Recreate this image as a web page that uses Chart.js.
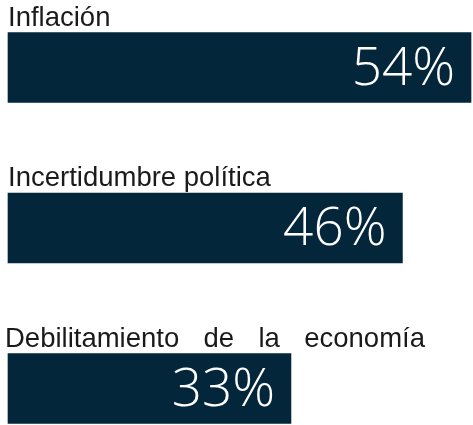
<!DOCTYPE html>
<html><head><meta charset="utf-8">
<script src="https://cdn.jsdelivr.net/npm/chart.js@4/dist/chart.umd.min.js"></script>
<style>html,body{margin:0;padding:0;background:#fff}#wrap{width:473px;height:425px;position:relative}</style>
</head><body><div id="wrap"><canvas id="c" width="473" height="425"></canvas></div>
<script>
const categories = ["Inflación", "Incertidumbre política", "Debilitamiento de la economía"];
const values = [54, 46, 33];
const valueLabels = ["54%", "46%", "33%"];

const BAR_COLOR = "#03263a";

const labelPlugin = {
  id: 'barLabels',
  afterDatasetsDraw(chart, args, opts) {
    const ctx = chart.ctx;
    const meta = chart.getDatasetMeta(0);
    meta.data.forEach((bar, i) => {
      const p = bar.getProps(['x', 'y', 'base', 'height'], true);
      const top = p.y - p.height / 2;
      ctx.save();
      ctx.fillStyle = '#1a1a1a';
      ctx.font = '27.5px "Liberation Sans", Arial, sans-serif';
      ctx.textBaseline = 'alphabetic';
      ctx.textAlign = 'left';
      const text = chart.data.labels[i];
      const jw = opts.justify[i];
      const lx = opts.labelX[i];
      const ly = top - 7;
      if (jw) {
        const words = text.split(' ');
        const widths = words.map(w => ctx.measureText(w).width);
        const sum = widths.reduce((a, b) => a + b, 0);
        const gap = (jw - sum) / (words.length - 1);
        let x = lx;
        words.forEach((w, k) => { ctx.fillText(w, x, ly); x += widths[k] + gap; });
      } else {
        ctx.fillText(text, lx, ly);
      }
      ctx.fillStyle = '#ffffff';
      ctx.font = '300 53px "Open Sans", "Segoe UI", sans-serif';
      ctx.textAlign = 'right';
      ctx.textBaseline = 'middle';
      ctx.fillText(valueLabels[i], p.x - 16, p.y + 2);
      ctx.restore();
    });
  }
};

new Chart(document.getElementById('c'), {
  type: 'bar',
  data: {
    labels: categories,
    datasets: [{
      data: values,
      backgroundColor: BAR_COLOR,
      borderWidth: 0,
      barThickness: 70,
      clip: false
    }]
  },
  options: {
    indexAxis: 'y',
    responsive: false,
    devicePixelRatio: 1,
    animation: false,
    layout: { padding: { top: 67.5, bottom: 36.5, left: 8, right: 2 } },
    scales: {
      x: { type: 'linear', min: 0, max: 54, display: false },
      y: { type: 'category', offset: false, display: false }
    },
    plugins: {
      legend: { display: false },
      tooltip: { enabled: false },
      barLabels: { justify: [null, null, 420], labelX: [8, 8, 5] }
    }
  },
  plugins: [labelPlugin]
});
</script>
</body></html>
